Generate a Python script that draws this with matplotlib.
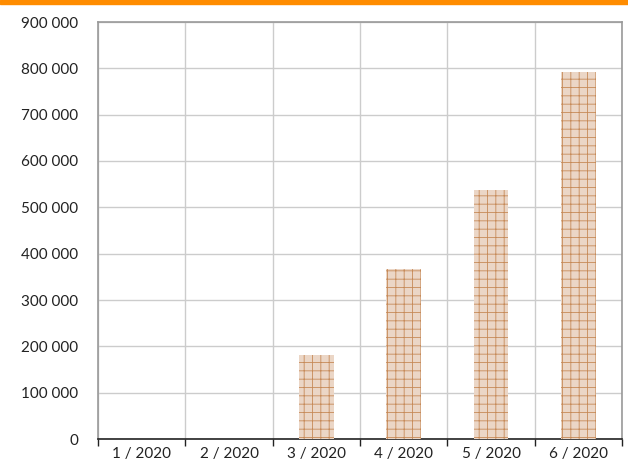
import matplotlib
matplotlib.use("Agg")
import matplotlib.pyplot as plt
import matplotlib.patches as ptc
from matplotlib.ticker import FuncFormatter, FixedLocator

months = ["1 / 2020", "2 / 2020", "3 / 2020", "4 / 2020", "5 / 2020", "6 / 2020"]
values = [0, 0, 181000, 367000, 537000, 792000]
y_ticks = [0, 100000, 200000, 300000, 400000, 500000, 600000, 700000, 800000, 900000]

plt.rcParams['font.family'] = ['Lato', 'DejaVu Sans']
plt.rcParams['hatch.linewidth'] = 0.6

fig = plt.figure(figsize=(6.28, 4.65), dpi=100)
ax = fig.add_axes([98 / 628, 1 - 439 / 465, 524 / 628, 417 / 465])

x = list(range(len(months)))
ax.bar(x, values, width=0.4, facecolor='#ebd6c6', edgecolor='#c68a58', linewidth=0,
       hatch='++', zorder=3)

ax.set_xlim(-0.5, len(months) - 0.5)
ax.set_ylim(0, 900000)
ax.yaxis.set_major_locator(FixedLocator(y_ticks))
ax.yaxis.set_major_formatter(FuncFormatter(lambda v, p: f"{int(v):,}".replace(",", " ")))

# category labels at centres, ticks + grid on boundaries
ax.set_xticks([i + 0.5 for i in range(-1, len(months))])
ax.set_xticklabels([])
ax.set_xticks(x, minor=True)
ax.set_xticklabels(months, minor=True)
ax.tick_params(axis='x', which='minor', length=0, pad=6, labelsize=11, colors='#222222')
ax.tick_params(axis='x', which='major', length=5, width=1, color='#222222', direction='out')
ax.tick_params(axis='y', length=0, pad=14, labelsize=11, colors='#222222')

ax.grid(True, axis='y', color='#cccccc', linewidth=1, zorder=0)
ax.grid(True, axis='x', which='major', color='#cccccc', linewidth=1, zorder=0)

for s in ['left', 'top', 'right']:
    ax.spines[s].set_color('#999999')
    ax.spines[s].set_linewidth(1.2)
ax.spines['bottom'].set_color('#222222')
ax.spines['bottom'].set_linewidth(1.2)

# orange band across the top
fig.patches.append(ptc.Rectangle((0, 1 - 4 / 465), 1, 4 / 465, transform=fig.transFigure,
                                 color='#ff8c00', zorder=5))

fig.savefig("out.png", dpi=100)
